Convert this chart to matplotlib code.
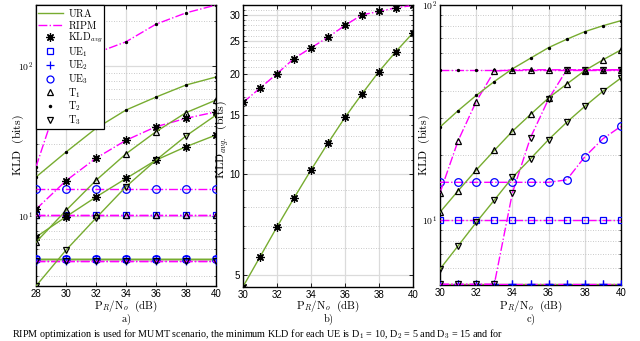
import matplotlib
matplotlib.use('Agg')
import matplotlib.pyplot as plt
from matplotlib.ticker import FixedLocator, NullFormatter, FixedFormatter
from matplotlib.lines import Line2D

plt.rcParams['mathtext.fontset'] = 'cm'
plt.rcParams['font.family'] = ['Liberation Sans', 'DejaVu Sans']

# ---------------- data ----------------
# panel a
xa = [28, 30, 32, 34, 36, 38, 40]
a_T2_URA = [18.2, 26.7, 38.4, 50.9, 62.1, 74.7, 84.5]
a_T2_RIPM = [21.3, 85, 122, 145, 190, 226, 255]
a_KLD_URA = [7.25, 9.9, 13.4, 17.8, 23.6, 29.0, 34.7]
a_KLD_RIPM = [11.1, 17.2, 24.3, 32.0, 39.4, 44.8, 49.5]
a_T1_URA = [6.7, 10.9, 17.3, 26.0, 36.5, 48.9, 59.3]
a_T3_URA = [3.42, 5.93, 9.7, 15.7, 23.6, 34.2, 47.1]
a_UE3_RIPM = [15.1, 15.1, 15.1, 15.1, 15.1, 15.1, 15.1]
a_UE1_RIPM = [10.2, 10.2, 10.2, 10.2, 10.2, 10.2, 10.2]
a_T1_RIPM = [10.2, 10.2, 10.2, 10.2, 10.2, 10.2, 10.2]
a_UE_URA = [5.2, 5.2, 5.2, 5.2, 5.2, 5.2, 5.2]
a_UE2_RIPM = [5.05, 5.05, 5.05, 5.05, 5.05, 5.05, 5.05]
a_T3_RIPM = [5.05, 5.05, 5.05, 5.05, 5.05, 5.05, 5.05]

# panel b
xb = [30, 31, 32, 33, 34, 35, 36, 37, 38, 39, 40]
b_RIPM = [16.4, 18.1, 20.0, 22.2, 23.9, 25.7, 27.9, 30.0, 30.7, 31.5, 32.0]
b_URA = [4.61, 5.66, 6.96, 8.49, 10.3, 12.4, 14.8, 17.4, 20.3, 23.3, 26.5]

# panel c
xc = [30, 31, 32, 33, 34, 35, 36, 37, 38, 39, 40]
c_T2_URA = [27.1, 32.3, 38.0, 44.1, 50.5, 56.6, 63.4, 69.3, 75.2, 80.1, 84.6]
c_T2_RIPM = [50, 50, 50, 50, 50, 50, 50, 50, 50, 50, 50]
c_T1_RIPM = [13.4, 23.4, 35.6, 49.3, 50, 50, 50, 50, 50, 50, 50]
c_T1_URA = [10.9, 13.7, 17.1, 21.1, 25.9, 31.0, 37.0, 42.9, 49.6, 55.6, 61.9]
c_T3_URA = [5.93, 7.6, 9.76, 12.4, 15.8, 19.3, 23.7, 28.5, 33.8, 39.7, 45.8]
c_T3_RIPM = [5.04, 5.04, 5.04, 5.04, 13.4, 24.2, 36.6, 50, 50, 50, 50]
c_UE3_RIPM = [15.0, 15.0, 15.0, 15.0, 15.0, 15.0, 15.0, 15.4, 19.7, 23.9, 27.3]
c_UE1_RIPM = [10.05, 10.05, 10.05, 10.05, 10.05, 10.05, 10.05, 10.05, 10.05, 10.05, 10.05]
c_UE2_URA = [5.08, 5.08, 5.08, 5.08, 5.08, 5.08, 5.08, 5.08, 5.08, 5.08, 5.08]
c_UE2_RIPM = [5.04, 5.04, 5.04, 5.04, 5.04, 5.04, 5.04, 5.04, 5.04, 5.04, 5.04]

caption = (r'RIPM optimization is used for MUMT scenario, the minimum KLD for each UE is '
           r'D$_{1}$ = 10, D$_{2}$ = 5 and D$_{3}$ = 15 and for')

# ---------------- style ----------------
GREEN = '#77AC30'
MAG = '#FF00FF'
BLUE = '#0000FF'
AST = (8, 2, 0)
LW = 1.0


def line(ax, x, y, color, ls, marker=None, mec='k', ms=5, mew=0.9, zorder=3):
    ax.plot(x, y, color=color, ls=ls, lw=LW, marker=marker, mec=mec,
            mfc='none' if marker not in ('.',) else mec, ms=ms, mew=mew,
            zorder=zorder, clip_on=True)


def style(ax, xt, xlim, ylim, ymaj, ylab, yminor):
    ax.set_yscale('log')
    ax.set_xlim(xlim)
    ax.set_ylim(ylim)
    ax.set_xticks(xt)
    ax.set_xticklabels([str(v) for v in xt])
    ax.yaxis.set_major_locator(FixedLocator(ymaj))
    ax.yaxis.set_major_formatter(FixedFormatter(ylab))
    ax.yaxis.set_minor_locator(FixedLocator(yminor))
    ax.yaxis.set_minor_formatter(NullFormatter())
    ax.grid(True, which='major', color='0.86', lw=0.9, ls='-')
    ax.grid(True, which='minor', axis='y', color='0.72', lw=0.6, ls=(0, (1, 2)))
    ax.tick_params(which='major', direction='in', top=True, right=True,
                   labelsize=7, length=3, width=0.6, pad=2)
    ax.tick_params(which='minor', direction='in', left=True, right=True, length=1.6, width=0.5)
    for s in ax.spines.values():
        s.set_linewidth(1.0)
    ax.set_axisbelow(True)


fig = plt.figure(figsize=(6.4, 3.41), dpi=100)
H = 341.0
W = 640.0


def mk_ax(l, r, t, b):
    return fig.add_axes([l / W, (H - b) / H, (r - l) / W, (b - t) / H])


ax_a = mk_ax(36, 216, 5, 286)
ax_b = mk_ax(243, 413, 5, 287)
ax_c = mk_ax(440, 621, 5, 285)

# ---------------- panel a ----------------
line(ax_a, xa, a_UE_URA, GREEN, '-', 's', BLUE, 5)
line(ax_a, xa, a_UE_URA, GREEN, '-', 'o', BLUE, 5.5)
line(ax_a, xa, a_UE_URA, GREEN, '-', '+', BLUE, 6)
line(ax_a, xa, a_UE2_RIPM, MAG, '-.', '+', BLUE, 6)
line(ax_a, xa, a_T3_RIPM, MAG, '-.', 'v', 'k', 4.5)
line(ax_a, xa, a_UE1_RIPM, MAG, '-.', 's', BLUE, 5)
line(ax_a, xa, a_T1_RIPM, MAG, '-.', '^', 'k', 4.5)
line(ax_a, xa, a_UE3_RIPM, MAG, '-.', 'o', BLUE, 5.5)
line(ax_a, xa, a_T2_RIPM, MAG, '-.', '.', 'k', 3)
line(ax_a, xa, a_KLD_RIPM, MAG, '-.', AST, 'k', 6, 0.9)
line(ax_a, xa, a_T2_URA, GREEN, '-', '.', 'k', 3)
line(ax_a, xa, a_KLD_URA, GREEN, '-', AST, 'k', 6, 0.9)
line(ax_a, xa, a_T1_URA, GREEN, '-', '^', 'k', 5)
line(ax_a, xa, a_T3_URA, GREEN, '-', 'v', 'k', 5)

minor_a = [4, 5, 6, 7, 8, 9, 20, 30, 40, 50, 60, 70, 80, 90, 200]
style(ax_a, [28, 30, 32, 34, 36, 38, 40], (28, 40), (3.42, 255),
      [10, 100], [r'$10^{1}$', r'$10^{2}$'], minor_a)

handles = [
    Line2D([], [], color=GREEN, ls='-', lw=LW),
    Line2D([], [], color=MAG, ls='-.', lw=LW),
    Line2D([], [], color='k', ls='none', marker=AST, ms=6, mew=0.9),
    Line2D([], [], color=BLUE, ls='none', marker='s', mfc='none', ms=4.5, mew=0.9),
    Line2D([], [], color=BLUE, ls='none', marker='+', ms=6, mew=0.9),
    Line2D([], [], color=BLUE, ls='none', marker='o', mfc='none', ms=5, mew=0.9),
    Line2D([], [], color='k', ls='none', marker='^', mfc='none', ms=5, mew=0.9),
    Line2D([], [], color='k', ls='none', marker='.', ms=3),
    Line2D([], [], color='k', ls='none', marker='v', mfc='none', ms=5, mew=0.9),
]
labels = [r'$\mathrm{URA}$', r'$\mathrm{RIPM}$', r'$\mathrm{KLD}_{avg}$',
          r'$\mathrm{UE}_{1}$', r'$\mathrm{UE}_{2}$', r'$\mathrm{UE}_{3}$',
          r'$\mathrm{T}_{1}$', r'$\mathrm{T}_{2}$', r'$\mathrm{T}_{3}$']
leg = ax_a.legend(handles, labels, loc='upper left', bbox_to_anchor=(0.0, 1.0),
                  fontsize=7.3, frameon=True, fancybox=False, framealpha=1,
                  edgecolor='k', handlelength=2.5, handletextpad=0.5,
                  labelspacing=0.0, borderpad=0.15, borderaxespad=0.0)
leg.get_frame().set_linewidth(0.9)
leg.set_zorder(10)

# ---------------- panel b ----------------
line(ax_b, xb, b_RIPM, MAG, '-.', AST, 'k', 6, 0.9)
line(ax_b, xb, b_URA, GREEN, '-', AST, 'k', 6, 0.9)
minor_b = [6, 7, 8, 9, 11, 12, 13, 14, 16, 17, 18, 19, 21, 22, 23, 24, 26, 27, 28, 29, 31, 32]
style(ax_b, [30, 32, 34, 36, 38, 40], (30, 40), (4.6, 32.1),
      [5, 10, 15, 20, 25, 30], ['5', '10', '15', '20', '25', '30'], minor_b)

# ---------------- panel c ----------------
line(ax_c, xc, c_UE2_URA, GREEN, '-', '+', BLUE, 6)
line(ax_c, xc, c_UE2_RIPM, MAG, '-.', '+', BLUE, 6)
line(ax_c, xc, c_T3_RIPM, MAG, '-.', 'v', 'k', 5)
line(ax_c, xc, c_UE1_RIPM, MAG, '-.', 's', BLUE, 5)
line(ax_c, xc, c_UE3_RIPM, MAG, '-.', 'o', BLUE, 5.5)
line(ax_c, xc, c_T2_RIPM, MAG, '-.', '.', 'k', 3)
line(ax_c, xc, c_T1_RIPM, MAG, '-.', '^', 'k', 5)
line(ax_c, xc, c_T2_URA, GREEN, '-', '.', 'k', 3)
line(ax_c, xc, c_T1_URA, GREEN, '-', '^', 'k', 5)
line(ax_c, xc, c_T3_URA, GREEN, '-', 'v', 'k', 5)
minor_c = [6, 7, 8, 9, 20, 30, 40, 50, 60, 70, 80, 90]
style(ax_c, [30, 32, 34, 36, 38, 40], (30, 40), (5.0, 100),
      [10, 100], [r'$10^{1}$', r'$10^{2}$'], minor_c)

# ---------------- labels ----------------
xlab = r'$\mathrm{P}_{R}/\mathrm{N}_{o}\ \ \mathrm{(dB)}$'
for ax, l, r, tag in [(ax_a, 36, 216, 'a'), (ax_b, 243, 413, 'b'), (ax_c, 440, 621, 'c')]:
    cx = (l + r) / 2 / W
    fig.text(cx, (H - 306) / H, xlab, ha='center', va='center', fontsize=8.0)
    fig.text(cx, (H - 320) / H, r'$\mathrm{' + tag + r')}$', ha='center', va='center', fontsize=7.5)

fig.text(18 / W, (H - 145) / H, r'$\mathrm{KLD\ \ (bits)}$', rotation=90,
         ha='center', va='center', fontsize=8.5)
fig.text(222 / W, (H - 140) / H, r'$\mathrm{KLD}_{avg.}\ \ \mathrm{(bits)}$', rotation=90,
         ha='center', va='center', fontsize=8.5)
fig.text(424 / W, (H - 145) / H, r'$\mathrm{KLD\ \ (bits)}$', rotation=90,
         ha='center', va='center', fontsize=8.5)

# caption line at the very bottom (cropped in the source image)
fig.text(12 / W, 0.2 / H, caption, ha='left', va='bottom', fontsize=7.3,
         family=['Liberation Serif', 'DejaVu Serif'])

fig.savefig('out.png', dpi=100)
